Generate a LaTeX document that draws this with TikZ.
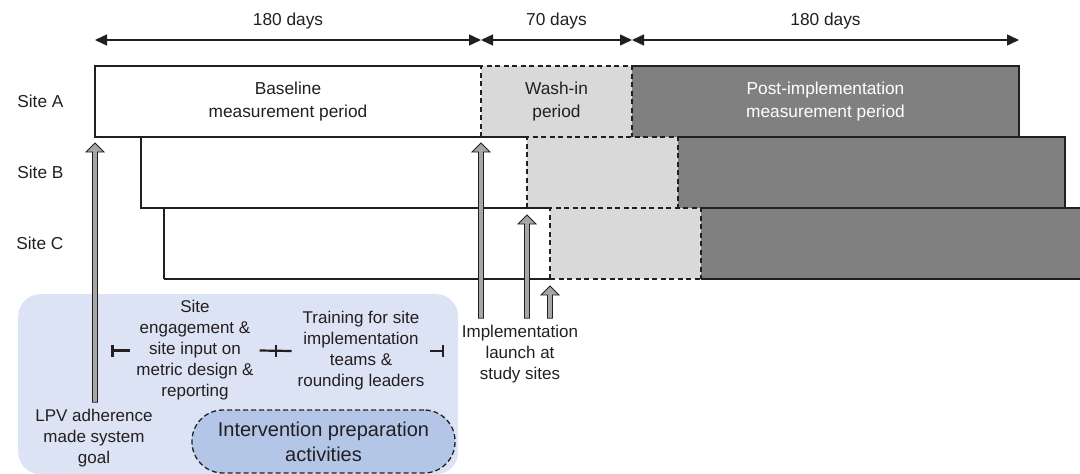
\documentclass[tikz,border=0pt]{standalone}
\usepackage{fontspec}
\setmainfont{Liberation Sans}
\usetikzlibrary{arrows.meta,calc}
\definecolor{ink}{RGB}{35,31,32}
\definecolor{washgray}{RGB}{217,217,217}
\definecolor{postgray}{RGB}{128,128,128}
\definecolor{liftgray}{RGB}{166,166,166}
\definecolor{panelblue}{RGB}{220,227,244}
\definecolor{ovalblue}{RGB}{180,198,231}
\newcommand{\txt}{\fontsize{17}{21}\selectfont}
% upward block arrow from a tail to a tip (same x)
\newcommand{\liftarrow}[2]{%
  \draw[lift] ($(#1)+(-2.5,0)$) -- ($(#2)+(-2.5,9)$) -- ($(#2)+(-9,9)$) -- (#2)
    -- ($(#2)+(9,9)$) -- ($(#2)+(2.5,9)$) -- ($(#1)+(2.5,0)$) -- cycle;}
\tikzset{
  period/.style={anchor=north west,minimum height=71pt,inner sep=0pt,outer sep=0pt},
  basebox/.style={period,fill=white,minimum width=386pt},
  washbox/.style={period,fill=washgray,minimum width=151pt},
  postbox/.style={period,fill=postgray,minimum width=387pt},
  edge/.style={draw=ink,line width=1.6pt},
  washedge/.style={edge,dash pattern=on 5pt off 3.5pt},
  boxtext/.style={font=\fontsize{17.3}{23}\selectfont,align=center,text=ink},
  sitelabel/.style={font=\fontsize{17.3}{21}\selectfont,anchor=east,text=ink},
  span/.style={{Triangle[length=12pt,width=11pt]}-{Triangle[length=12pt,width=11pt]},draw=ink,line width=1.4pt},
  days/.style={above=7pt,font=\fontsize{17.3}{21}\selectfont,text=ink},
  note/.style={font=\txt,align=center,text=ink,outer sep=4pt},
  stepnote/.style={note,inner sep=6pt,outer sep=0pt},
  phase/.style={draw=ink,line width=2.2pt},
  lift/.style={fill=liftgray,draw=ink,line width=0.8pt},
  panel/.style={anchor=north west,fill=panelblue,rounded corners=22pt,minimum width=440pt,minimum height=180pt},
  oval/.style={fill=ovalblue,draw=ink,line width=1.3pt,dash pattern=on 5pt off 3pt,rounded corners=31pt,
    minimum width=263pt,minimum height=63pt,align=center,font=\fontsize{20}{25}\selectfont,text=ink}
}
\begin{document}
\begin{tikzpicture}[x=1pt,y=-1pt]
\useasboundingbox (0,0) rectangle (1080,474);
\clip (0,0) rectangle (1080,474);

% one row per site: fills first, then the outline pieces
\foreach \r/\xs/\yt/\xn in {A/95/66/141,B/141/137/164,C/164/208/164}{
  \node[basebox] (base\r) at (\xs,\yt) {};
  \node[washbox] (wash\r) at (base\r.north east) {};
  \node[postbox] (post\r) at (wash\r.north east) {};
  \draw[edge] (base\r.north east) -- (base\r.north west) -- (base\r.south west) -- (\xn,0 |- base\r.south west);
  \draw[edge] (post\r.north west) -- (post\r.north east) -- (post\r.south east);
  \draw[washedge] (wash\r.south west) -- (wash\r.north west) -- (wash\r.north east) -- (wash\r.south east);
  \node[sitelabel] (site\r) at (67,0 |- base\r.west) {Site \r};
}
\draw[edge] (baseC.south west) -- (baseC.south east);
\draw[washedge] (washC.south west) -- (washC.south east);
\draw[edge] (postC.south west) -- (postC.south east);

\node[boxtext] (txtBase) at (baseA) {Baseline\\measurement period};
\node[boxtext] (txtWash) at (washA) {Wash-in\\period};
\node[boxtext,text=white] (txtPost) at (postA) {Post-implementation\\measurement period};

% durations
\path (baseA.north west) ++(0,-26) coordinate (d0);
\path (washA.north west) ++(0,-26) coordinate (d1);
\path (postA.north west) ++(0,-26) coordinate (d2);
\path (postA.north east) ++(0,-26) coordinate (d3);
\draw[span] (d0) -- node[days] (daysBase) {180 days} (d1);
\draw[span] (d1) -- node[days] (daysWash) {70 days} (d2);
\draw[span] (d2) -- node[days] (daysPost) {180 days} (d3);

% preparation activities
\node[panel] (prep) at (18,294) {};
\node[stepnote] (eng) at (195,350.5) {Site\\engagement \&\\site input on\\metric design \&\\reporting};
\node[stepnote] (train) at (361,351) {Training for site\\implementation\\teams \&\\rounding leaders};
\draw[phase,{Bar[width=12pt]}-] ([xshift=-19pt]eng.west) -- (eng.west);
\draw[phase] (eng.east) -- coordinate[midway] (handover) (train.west);
\draw[phase] ([yshift=6pt]handover) -- ([yshift=-6pt]handover);
\draw[phase,-{Bar[width=12pt]}] (train.east) -- ([xshift=14pt]train.east);
\node[oval] (prepOval) at (323.5,441.5) {Intervention preparation\\activities};

% milestones
\node[note] (goal) at (94,438.5) {LPV adherence\\made system\\goal};
\node[note] (launch) at (520,354.5) {Implementation\\launch at\\study sites};
\coordinate (goalTip) at ($(baseA.south west)+(0,6)$);
\coordinate (launchA) at ($(washA.south west)+(0,6)$);
\coordinate (launchB) at ($(washB.south west)+(0,7)$);
\coordinate (launchC) at ($(washC.south west)+(0,7)$);
\coordinate (goalTail) at (goal.north -| goalTip);
\coordinate (tailA) at (launch.north -| launchA);
\coordinate (tailB) at (launch.north -| launchB);
\coordinate (tailC) at (launch.north -| launchC);
\liftarrow{goalTail}{goalTip}
\liftarrow{tailA}{launchA}
\liftarrow{tailB}{launchB}
\liftarrow{tailC}{launchC}
\end{tikzpicture}
\end{document}
